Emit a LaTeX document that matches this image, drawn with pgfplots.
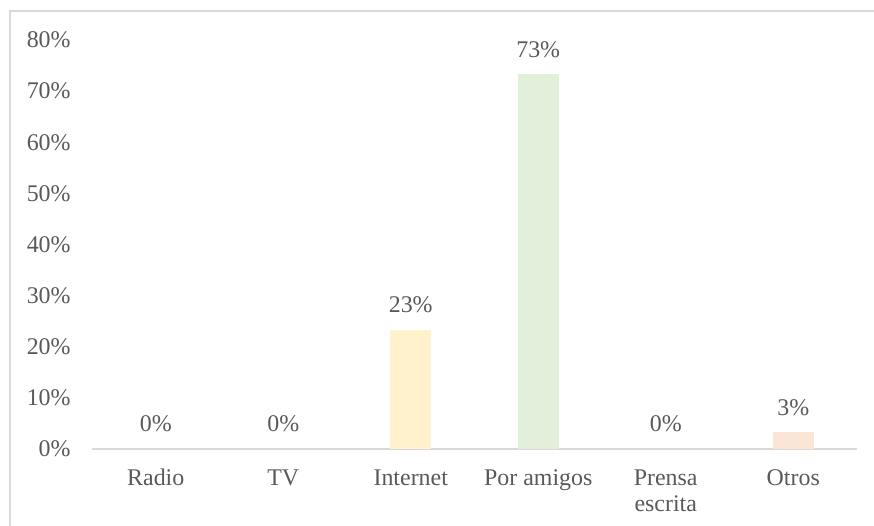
\documentclass[border=0pt]{standalone}
\usepackage{pgfplots}
\pgfplotsset{compat=1.18}
\usepackage{fontspec}
\setmainfont{Liberation Serif}
\definecolor{txt}{HTML}{595959}
\definecolor{grid}{HTML}{D9D9D9}
\definecolor{cyel}{HTML}{FFF2CC}
\definecolor{cgrn}{HTML}{E2EFDA}
\definecolor{cpch}{HTML}{FBE5D6}
\begin{document}
\fontsize{12}{13.5}\selectfont
\begin{tikzpicture}
\useasboundingbox (-46bp,-38.5bp) rectangle (391bp,224.5bp);
\draw[grid, line width=1bp] (-41bp,-40bp) -- (-41bp,219bp) -- (392bp,219bp);
\begin{axis}[
  at={(0,0)}, anchor=south west,
  scale only axis,
  width=382.5bp, height=204.5bp,
  xmin=-0.5, xmax=5.5, ymin=0, ymax=80,
  axis lines=left,
  x axis line style={-, draw=grid, line width=1bp},
  y axis line style={draw=none},
  major tick length=0pt,
  tick style={draw=none},
  xtick={0,1,2,3,4,5},
  xticklabels={Radio, TV, Internet, Por amigos, {Prensa\\escrita}, Otros},
  ytick={0,10,20,30,40,50,60,70,80},
  yticklabels={0\%,10\%,20\%,30\%,40\%,50\%,60\%,70\%,80\%},
  ticklabel style={font=\fontsize{12}{13.5}\selectfont, text=txt},
  xticklabel style={anchor=north, inner sep=0pt, yshift=-10bp, align=center},
  yticklabel style={anchor=east, inner sep=0pt, xshift=-10.5bp},
  ybar, bar width=20.5bp, bar shift=0pt,
  clip=false,
  nodes near coords={\pgfmathprintnumber[fixed,precision=0,assume math mode=true]{\pgfplotspointmeta}\%},
  every node near coord/.append style={anchor=south, inner sep=0pt, yshift=8.2bp, text=txt, font=\fontsize{12}{13.5}\selectfont},
]
\addplot[draw=none, fill=none] coordinates {(0,0) (1,0) (4,0)};
\addplot[draw=none, fill=cyel] coordinates {(2,23.3)};
\addplot[draw=none, fill=cgrn] coordinates {(3,73.3)};
\addplot[draw=none, fill=cpch] coordinates {(5,3.3)};
\end{axis}
\end{tikzpicture}
\end{document}
